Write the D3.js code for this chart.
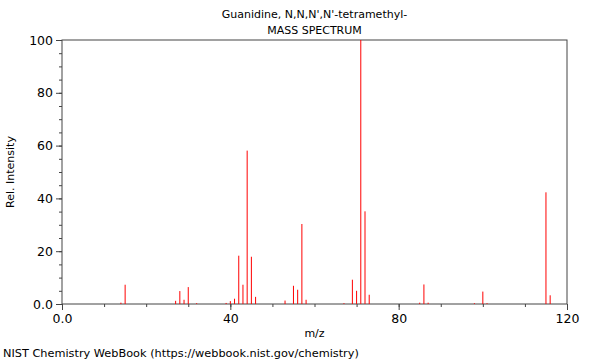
<!DOCTYPE html>
<html lang="en">
<head>
    <meta charset="UTF-8">
    <title>Guanidine, N,N,N',N'-tetramethyl- Mass Spectrum</title>
    <script src="https://cdn.jsdelivr.net/npm/d3@7"></script>
    <style>
        body {
            margin: 0;
            padding: 0;
            background: #fff;
        }
        svg text {
            font-family: "DejaVu Sans", sans-serif;
            fill: #000;
        }
    </style>
</head>
<body>
    <svg width="600" height="360"></svg>
    <script>
        // peaks
        const mz = [14, 15, 27, 28, 29, 30, 32, 39, 40, 41, 42, 43, 44, 45, 46,
                    53, 55, 56, 57, 58, 67, 69, 70, 71, 72, 73, 85, 86, 87, 98, 100, 101, 115, 116];
        const intensity = [0.5, 7.3, 1.2, 4.9, 1.6, 6.4, 0.3, 0.4, 1.1, 2.0, 18.3, 7.3, 58.1, 17.9, 2.7,
                           1.3, 6.9, 5.4, 30.3, 1.6, 0.3, 9.2, 5.0, 100, 35.1, 3.5, 0.5, 7.4, 0.5, 0.3, 4.7, 0.3, 42.3, 3.3];
        const xTicks = [0, 40, 80, 120];
        const yTicks = [0, 20, 40, 60, 80, 100];
        const titleLines = ["Guanidine, N,N,N',N'-tetramethyl-", "MASS SPECTRUM"];

        const svg = d3.select("svg"),
              margin = {top: 40, right: 33, bottom: 56, left: 62},
              width = +svg.attr("width") - margin.left - margin.right,
              height = +svg.attr("height") - margin.top - margin.bottom,
              g = svg.append("g").attr("transform", `translate(${margin.left},${margin.top})`);

        const x = d3.scaleLinear().domain([0, 120]).range([0, width]);
        const y = d3.scaleLinear().domain([0, 100]).range([height, 0]);
        const fmt = d => d === 0 ? "0.0" : String(d);
        const axisColor = "#444";

        // minor ticks
        g.append("g")
         .attr("transform", `translate(0,${height})`)
         .call(d3.axisBottom(x).tickValues(d3.range(0, 121, 10)).tickSize(3).tickFormat(""))
         .call(a => a.select(".domain").remove())
         .selectAll("line").attr("stroke", axisColor);
        g.append("g")
         .call(d3.axisLeft(y).tickValues(d3.range(0, 101, 5)).tickSize(3).tickFormat(""))
         .call(a => a.select(".domain").remove())
         .selectAll("line").attr("stroke", axisColor);

        // major ticks + labels
        const xAxis = g.append("g")
         .attr("transform", `translate(0,${height})`)
         .call(d3.axisBottom(x).tickValues(xTicks).tickSize(6).tickPadding(4).tickFormat(fmt));
        const yAxis = g.append("g")
         .call(d3.axisLeft(y).tickValues(yTicks).tickSize(6).tickPadding(3).tickFormat(fmt));
        [xAxis, yAxis].forEach(a => {
            a.select(".domain").remove();
            a.selectAll("line").attr("stroke", axisColor);
            a.selectAll("text").style("font-size", "12.5px").attr("fill", "#000");
        });

        // frame
        g.append("rect")
         .attr("x", 0).attr("y", 0)
         .attr("width", width).attr("height", height)
         .attr("fill", "none")
         .attr("stroke", axisColor)
         .attr("stroke-width", 1);

        // peaks
        g.selectAll(".peak")
         .data(mz.map((m, i) => ({m: m, v: intensity[i]})))
         .join("line")
         .attr("class", "peak")
         .attr("x1", d => x(d.m))
         .attr("x2", d => x(d.m))
         .attr("y1", y(0))
         .attr("y2", d => y(d.v))
         .attr("stroke", "#ff0000")
         .attr("stroke-width", 1);

        // titles
        svg.selectAll(".title")
           .data(titleLines)
           .join("text")
           .attr("class", "title")
           .attr("x", margin.left + width / 2)
           .attr("y", (d, i) => 18 + i * 16)
           .style("font-size", "11px")
           .style("text-anchor", "middle")
           .text(d => d);

        svg.append("text")
           .attr("x", margin.left + width / 2)
           .attr("y", 337)
           .style("font-size", "11px")
           .style("text-anchor", "middle")
           .text("m/z");

        svg.append("text")
           .attr("transform", "rotate(-90)")
           .attr("x", -(margin.top + height / 2))
           .attr("y", 14)
           .style("font-size", "11px")
           .style("text-anchor", "middle")
           .text("Rel. Intensity");

        svg.append("text")
           .attr("x", 3)
           .attr("y", 357)
           .style("font-size", "11.3px")
           .text("NIST Chemistry WebBook (https://webbook.nist.gov/chemistry)");
    </script>
</body>
</html>
